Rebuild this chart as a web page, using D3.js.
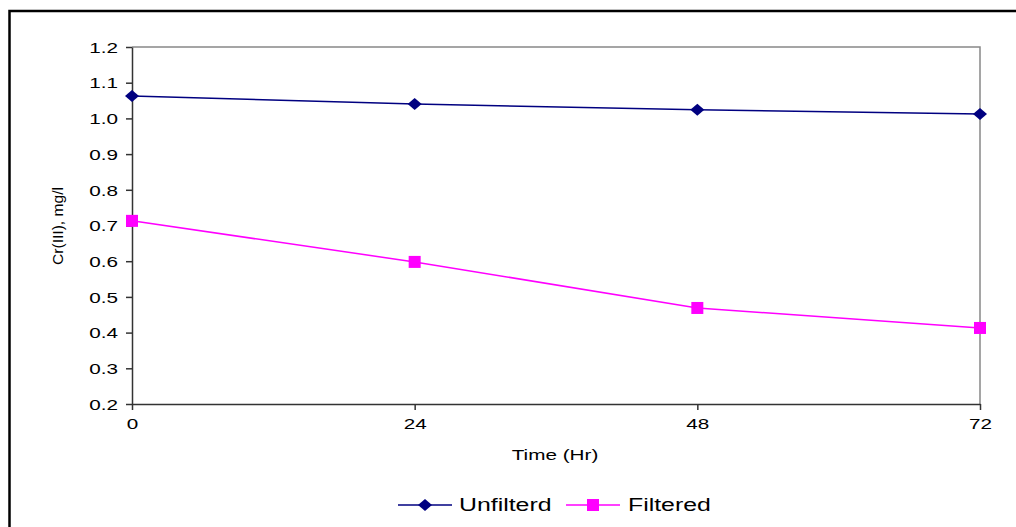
<!DOCTYPE html>
<html><head><meta charset="utf-8">
<script src="https://cdn.jsdelivr.net/npm/d3@7"></script>
<style>body{margin:0;background:#fff}svg{display:block}text{font-family:"Liberation Sans",Arial,sans-serif}</style>
</head><body>
<svg id="c" width="1016" height="527"></svg>
<script>
const times = [0, 24, 48, 72];
const unfiltered = [1.063, 1.040, 1.024, 1.012];
const filtered = [0.713, 0.598, 0.469, 0.413];
const yTicks = [0.2, 0.3, 0.4, 0.5, 0.6, 0.7, 0.8, 0.9, 1.0, 1.1, 1.2];
const seriesNames = ["Unfilterd", "Filtered"];
const colors = ["#000080", "#FF00FF"];
const SX = 1.38;

const svg = d3.select("#c");
svg.append("path").attr("d","M9.5,1016 L9.5,11 L1016,11").attr("fill","none").attr("stroke","#000").attr("stroke-width",2.5);

const L=132, R=980, T=47, B=404;
const x = d3.scaleLinear().domain([0,72]).range([L,R]);
const y = d3.scaleLinear().domain([0.2,1.2]).range([B,T]);

svg.append("path").attr("d",`M${L},${T}H${R}V${B}`).attr("fill","none").attr("stroke","#888").attr("stroke-width",1.5);

const ya = svg.append("g").attr("transform",`translate(${L},0)`)
  .call(d3.axisLeft(y).tickValues(yTicks).tickFormat(d3.format(".1f")).tickSize(6).tickSizeOuter(0));
const xa = svg.append("g").attr("transform",`translate(0,${B})`)
  .call(d3.axisBottom(x).tickValues(times).tickFormat(d3.format("d")).tickSize(6).tickSizeOuter(0));
[ya,xa].forEach(g=>{
  g.selectAll("path,line").attr("stroke","#333").attr("stroke-width",1.5);
  g.selectAll("text").attr("fill","#000").style("font-size","15px");
});
ya.selectAll("text").attr("x",null).attr("dy","0.35em").attr("transform",`translate(-14,0) scale(${SX},1)`);
xa.selectAll("text").attr("y",null).attr("dy","0.71em").attr("transform",`translate(0,14) scale(${SX},1)`);

function stretched(xp, yp, txt, size, anchor){
  return svg.append("text").attr("transform",`translate(${xp},${yp}) scale(${SX},1)`)
    .attr("text-anchor",anchor).attr("dy","0.35em").style("font-size",size+"px").text(txt);
}
stretched(555, 455, "Time (Hr)", 15, "middle");
svg.append("text").attr("transform","translate(63,226) rotate(-90)").attr("text-anchor","middle").style("font-size","15px").attr("textLength",78).attr("lengthAdjust","spacingAndGlyphs").text("Cr(III), mg/l");

const line = d3.line().x((d,i)=>x(times[i])).y(d=>y(d));
const data=[unfiltered, filtered];
function marker(g,k,cx,cy){
  if(k===0) g.append("path").attr("d",`M${cx-7},${cy}L${cx},${cy-6}L${cx+7},${cy}L${cx},${cy+6}Z`).attr("fill",colors[k]);
  else g.append("rect").attr("x",cx-6).attr("y",cy-6).attr("width",12).attr("height",12).attr("fill",colors[k]);
}
data.forEach((s,k)=>{
  svg.append("path").datum(s).attr("d",line).attr("fill","none").attr("stroke",colors[k]).attr("stroke-width",1.5);
  const g = svg.append("g");
  s.forEach((v,i)=>marker(g,k,x(times[i]),y(v)));
});

const lg=[{x0:398,tx:459},{x0:566,tx:628}];
lg.forEach((p,k)=>{
  const cy=505, cx=p.x0+27;
  svg.append("line").attr("x1",p.x0).attr("x2",p.x0+54).attr("y1",cy).attr("y2",cy).attr("stroke",colors[k]).attr("stroke-width",1.5);
  marker(svg,k,cx,cy);
  stretched(p.tx, cy, seriesNames[k], 18, "start");
});
</script>
</body></html>
